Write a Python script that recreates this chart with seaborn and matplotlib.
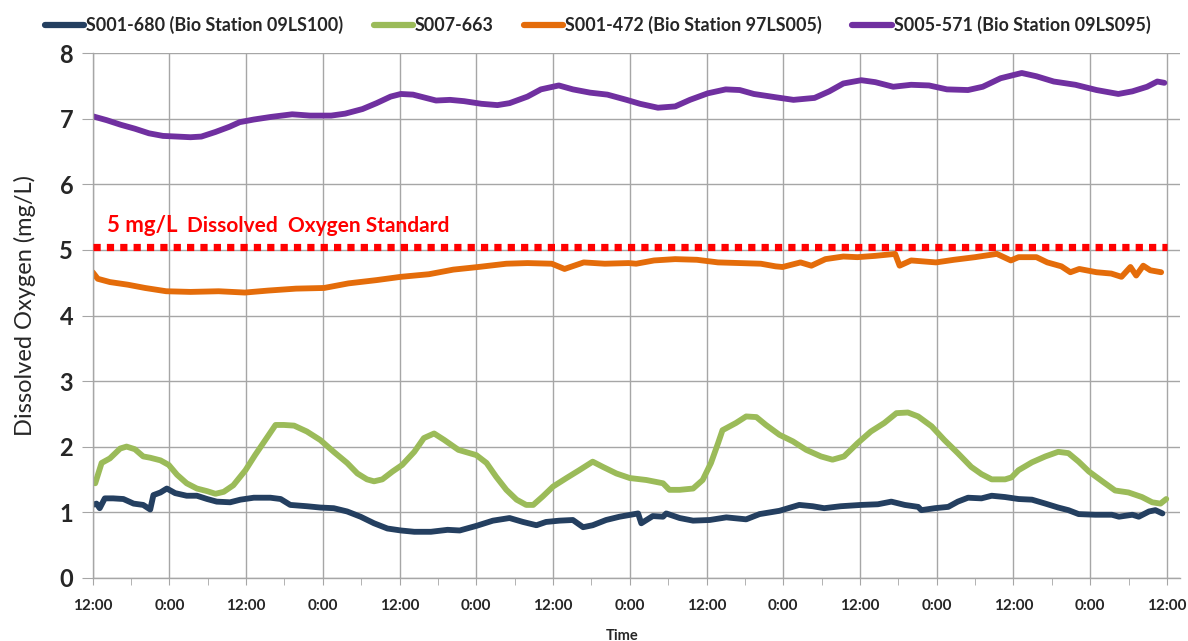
import matplotlib
matplotlib.use("Agg")
import matplotlib.pyplot as plt
from matplotlib.ticker import MultipleLocator
import pandas as pd
import seaborn as sns

# hours since the first 12:00 reading, dissolved oxygen in mg/L
navy_t = [0, 0.6, 1.1, 1.9, 3.2, 4.8, 6.4, 7.9, 9.0, 9.5, 10.6, 11.6, 12.9, 14.7, 16.3, 17.9,
          19.4, 21.5, 23.1, 25.2, 27.8, 29.4, 30.9, 33.5, 35.6, 37.7, 39.8, 41.9, 44.0, 46.1,
          48.2, 50.3, 52.9, 55.5, 57.4, 60.0, 62.6, 65.2, 67.3, 69.4, 70.9, 73.0, 75.1, 76.7,
          78.2, 80.3, 82.4, 85.3, 85.8, 87.6, 89.2, 89.7, 91.8, 93.9, 96.5, 99.1, 102.2, 104.3,
          107.4, 110.5, 112.6, 114.4, 117.0, 120.2, 122.8, 124.9, 127.0, 129.1, 129.6, 131.7,
          133.8, 135.3, 136.9, 139.0, 140.6, 142.7, 144.8, 146.9, 149.0, 151.0, 152.6, 154.2,
          156.8, 159.4, 160.5, 162.6, 163.6, 165.2, 166.2, 167.3]
navy_v = [1.11, 1.13, 1.06, 1.21, 1.21, 1.20, 1.13, 1.11, 1.04, 1.26, 1.30, 1.36, 1.29, 1.25, 1.25, 1.20,
          1.16, 1.15, 1.19, 1.22, 1.22, 1.20, 1.11, 1.09, 1.07, 1.06, 1.01, 0.93, 0.83, 0.75,
          0.72, 0.70, 0.70, 0.73, 0.72, 0.79, 0.87, 0.91, 0.85, 0.80, 0.85, 0.87, 0.88, 0.77,
          0.80, 0.88, 0.93, 0.98, 0.83, 0.94, 0.93, 0.98, 0.91, 0.87, 0.88, 0.92, 0.89, 0.97,
          1.02, 1.11, 1.09, 1.06, 1.09, 1.11, 1.12, 1.16, 1.11, 1.08, 1.03, 1.06,
          1.08, 1.16, 1.22, 1.21, 1.25, 1.23, 1.20, 1.19, 1.13, 1.07, 1.03, 0.97,
          0.96, 0.96, 0.93, 0.96, 0.93, 1.01, 1.03, 0.98]

green_t = [0.4, 1.4, 2.7, 4.3, 5.3, 6.6, 7.9, 9.0, 10.6, 11.9, 13.2, 14.7, 16.3, 17.9, 19.2, 20.5,
           22.0, 23.9, 25.4, 27.0, 28.6, 29.9, 31.5, 33.5, 35.6, 37.7, 39.8, 41.4, 42.9, 44.0,
           45.3, 46.9, 48.4, 50.3, 51.8, 53.4, 55.0, 57.2, 60.0, 61.6, 63.1, 64.7, 66.3, 67.8,
           68.9, 70.4, 72.0, 74.1, 76.1, 78.2, 79.8, 81.9, 84.0, 86.6, 89.2, 90.2, 91.8, 93.9,
           95.4, 96.7, 97.8, 98.5, 100.6, 102.2, 103.8, 105.3, 107.4, 109.5, 111.6, 113.9,
           115.7, 117.5, 119.6, 121.7, 123.8, 125.7, 127.5, 129.1, 131.2, 133.2, 135.3, 137.4,
           139.0, 140.6, 142.7, 143.7, 144.8, 146.9, 149.0, 151.0, 152.6, 154.2, 155.8, 157.9,
           159.9, 162.0, 164.1, 165.7, 167.0, 167.9]
green_v = [1.44, 1.75, 1.82, 1.97, 2.00, 1.96, 1.85, 1.83, 1.79, 1.72, 1.57, 1.44, 1.36, 1.32, 1.28, 1.31,
           1.41, 1.64, 1.87, 2.10, 2.33, 2.33, 2.32, 2.23, 2.10, 1.92, 1.75, 1.59, 1.50, 1.47,
           1.50, 1.62, 1.72, 1.92, 2.13, 2.20, 2.10, 1.95, 1.87, 1.75, 1.54, 1.34, 1.19, 1.11,
           1.11, 1.24, 1.39, 1.52, 1.64, 1.77, 1.69, 1.59, 1.52, 1.49, 1.44, 1.34, 1.34, 1.36,
           1.49, 1.75, 2.05, 2.25, 2.36, 2.46, 2.45, 2.33, 2.18, 2.08, 1.95, 1.85,
           1.80, 1.85, 2.05, 2.23, 2.36, 2.51, 2.52, 2.46, 2.31, 2.10, 1.90, 1.69,
           1.58, 1.50, 1.50, 1.53, 1.64, 1.76, 1.85, 1.92, 1.90, 1.77, 1.62, 1.47,
           1.33, 1.30, 1.23, 1.15, 1.13, 1.20]

orange_t = [0, 0.8, 2.7, 5.5, 8.2, 11.5, 15.3, 19.7, 23.8, 27.4, 31.8, 36.2, 40.0, 44.4, 48.2, 52.6,
            56.4, 60.3, 64.7, 68.0, 71.8, 73.8, 76.8, 80.1, 83.8, 85.0, 87.8, 91.1, 94.5, 97.8,
            101.2, 104.5, 106.8, 107.9, 110.7, 112.4, 114.6, 117.4, 119.6, 122.4, 125.5, 126.2,
            128.0, 131.9, 134.7, 138.0, 141.4, 143.6, 144.8, 147.6, 149.3, 151.5, 152.9, 154.3,
            157.0, 159.3, 160.9, 162.3, 163.2, 164.3, 165.4, 167.1]
orange_v = [4.66, 4.56, 4.51, 4.47, 4.42, 4.37, 4.36, 4.37, 4.35, 4.38, 4.41, 4.42, 4.49, 4.54, 4.59, 4.63,
            4.70, 4.74, 4.79, 4.80, 4.79, 4.71, 4.81, 4.79, 4.80, 4.79, 4.84, 4.86, 4.85, 4.81,
            4.80, 4.79, 4.75, 4.74, 4.81, 4.76, 4.86, 4.90, 4.89, 4.91, 4.94, 4.76,
            4.84, 4.81, 4.85, 4.89, 4.94, 4.84, 4.89, 4.89, 4.81, 4.75, 4.66, 4.71,
            4.66, 4.64, 4.59, 4.74, 4.61, 4.76, 4.69, 4.66]

purple_t = [0, 2.2, 4.4, 6.6, 8.8, 11.0, 13.2, 15.3, 17.0, 19.2, 21.4, 23.0, 25.2, 27.9, 31.2, 34.0,
            37.3, 39.5, 42.2, 44.4, 46.6, 48.2, 50.1, 52.1, 53.7, 55.9, 58.1, 60.8, 63.3, 65.2,
            68.0, 70.1, 72.9, 75.1, 77.8, 80.5, 83.5, 85.6, 88.4, 91.1, 93.4, 96.2, 99.0, 101.2,
            103.4, 106.8, 109.6, 112.9, 115.2, 117.4, 120.2, 122.4, 125.2, 128.0, 130.8, 133.6,
            136.9, 139.2, 142.0, 145.3, 147.6, 150.3, 153.7, 157.0, 160.4, 162.6, 164.9, 166.5, 167.6]
purple_v = [7.04, 6.98, 6.91, 6.85, 6.78, 6.74, 6.73, 6.72, 6.73, 6.80, 6.88, 6.95, 6.99, 7.03, 7.07, 7.05,
            7.05, 7.08, 7.15, 7.24, 7.34, 7.38, 7.37, 7.32, 7.28, 7.29, 7.27, 7.23, 7.21, 7.24,
            7.34, 7.45, 7.51, 7.45, 7.40, 7.37, 7.29, 7.23, 7.17, 7.19, 7.29, 7.39, 7.45, 7.44,
            7.38, 7.33, 7.29, 7.32, 7.42, 7.54, 7.59, 7.56, 7.49, 7.52, 7.51, 7.45,
            7.44, 7.49, 7.62, 7.70, 7.65, 7.57, 7.52, 7.44, 7.38, 7.42, 7.49, 7.57, 7.55]

series_names = ["S001-680 (Bio Station 09LS100)", "S007-663",
                "S001-472 (Bio Station 97LS005)", "S005-571 (Bio Station 09LS095)"]
series_colors = ["#243F60", "#9BBB59", "#E46C0A", "#7030A0"]

tick_hours = list(range(0, 169, 12))
tick_labels = ["12:00", "0:00"] * 7 + ["12:00"]
do_standard = 5.05

frames = []
for name, t, v in zip(series_names,
                      [navy_t, green_t, orange_t, purple_t],
                      [navy_v, green_v, orange_v, purple_v]):
    frames.append(pd.DataFrame({"time": t, "do": v, "site": name}))
df = pd.concat(frames, ignore_index=True)

sns.set_style("white")
plt.rcParams["font.family"] = ["Lato", "DejaVu Sans"]

fig = plt.figure(figsize=(11.88, 6.41), dpi=100)
ax = fig.add_axes([0.078, 0.0988, 0.915, 0.818])

grid_c = "#A6A6A6"
ax.set_axisbelow(True)
ax.grid(True, which="major", color=grid_c, linewidth=1.0)

sns.lineplot(data=df, x="time", y="do", hue="site", hue_order=series_names,
             palette=series_colors, estimator=None, sort=False, linewidth=4.2,
             ax=ax)

ax.hlines(do_standard, tick_hours[0], tick_hours[-1], colors="#FF0000",
          linewidth=5.2, linestyles=(0, (1.0, 0.85)), zorder=5)
ax.text(2.3, 5.37, "5 mg/L", color="#FF0000", fontsize=16, fontweight="bold", va="center")
ax.text(14.8, 5.37, "Dissolved  Oxygen Standard", color="#FF0000", fontsize=15,
        fontweight="bold", va="center")

ax.set_xlim(0, 170)
ax.set_ylim(0, 8)
ax.set_xticks(tick_hours)
ax.set_xticklabels(tick_labels, fontsize=11, fontweight="bold")
ax.xaxis.set_minor_locator(MultipleLocator(6))
ax.set_yticks(range(0, 9))
ax.set_yticklabels([str(i) for i in range(0, 9)], fontsize=17, fontweight="bold")
ax.tick_params(axis="y", which="major", direction="out", length=8, color=grid_c, pad=6)
ax.tick_params(axis="x", which="both", direction="out", length=5, color=grid_c, pad=10)
ax.tick_params(bottom=True, left=True, which="both")
ax.tick_params(axis="x", which="minor", bottom=True)

for side in ["top", "right"]:
    ax.spines[side].set_visible(False)
for side in ["left", "bottom"]:
    ax.spines[side].set_color(grid_c)
    ax.spines[side].set_linewidth(1.0)

ax.set_xlabel("Time", fontsize=10.5, fontweight="bold")
ax.xaxis.set_label_coords(0.487, -0.097)
ax.set_ylabel("Dissolved Oxygen (mg/L)", fontsize=17)
ax.yaxis.set_label_coords(-0.052, 0.52)

handles, labels = ax.get_legend_handles_labels()
ax.get_legend().remove()
leg = fig.legend(handles, labels, loc="upper center", bbox_to_anchor=(0.503, 1.0), ncol=4,
                 frameon=False, handlelength=2.2, handletextpad=0.1, columnspacing=1.7,
                 prop={"weight": "bold", "size": 12.9})
for line in leg.get_lines():
    line.set_linewidth(4.5)

fig.savefig("out.png", dpi=100)
